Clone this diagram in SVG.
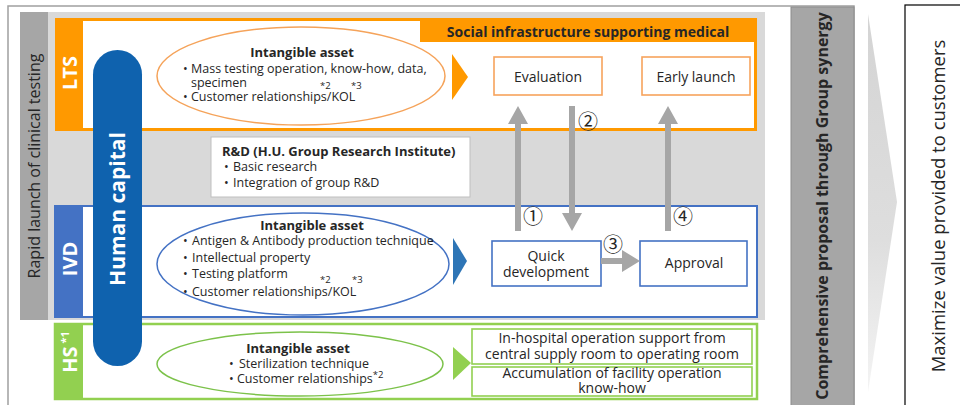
<svg xmlns="http://www.w3.org/2000/svg" width="960" height="405" viewBox="0 0 960 405">
<defs>
<style>
text{font-family:"Open Sans","Noto Sans","DejaVu Sans",sans-serif;fill:#262626}
.b{font-weight:bold}
.s12{font-size:12.5px}
.s13{font-size:13px}
.s14{font-size:14px}
.sup{font-size:9.5px}
.w{fill:#fff}
.c{text-anchor:middle}
.num{font-family:"Noto Sans CJK JP","DejaVu Sans",sans-serif;font-size:20px;text-anchor:middle;fill:#262626}
.arr{fill:#a6a6a6}
.box{fill:#fff;stroke-width:1.6}
</style>
<linearGradient id="chev" x1="0" y1="0" x2="0" y2="1">
<stop offset="0" stop-color="#d4d4d4"/>
<stop offset="0.6" stop-color="#dedede"/>
<stop offset="1" stop-color="#f4f4f4"/>
</linearGradient>
</defs>
<rect width="960" height="405" fill="#fff"/>

<g id="frame">
<rect x="8" y="6" width="846" height="410" fill="none" stroke="#a0a0a0" stroke-width="1.5"/>
<rect x="20" y="12" width="745" height="308" fill="#d9d9d9"/>
</g>

<g id="rapid">
<rect x="20" y="12" width="28" height="308" fill="#a6a6a6"/>
<text transform="translate(40,166) rotate(-90)" x="0" y="0" class="c" style="font-size:16px">Rapid launch of clinical testing</text>
</g>

<g id="lts">
<rect x="55" y="18" width="702" height="113" fill="#ff9900"/>
<rect x="83" y="21" width="671" height="107" fill="#fff"/>
<rect x="420" y="18" width="337" height="24" fill="#ff9900"/>
<text x="588" y="37" class="b s14 c">Social infrastructure supporting medical</text>
<text transform="translate(77,73) rotate(-90)" x="0" y="0" class="b w c" style="font-size:20px">LTS</text>
<ellipse cx="301" cy="76" rx="144" ry="49" fill="none" stroke="#f5a35a" stroke-width="1.5"/>
<text x="302" y="57" class="b s13 c">Intangible asset</text>
<text x="183" y="73" class="s12">•</text>
<text x="191" y="73" class="s12">Mass testing operation, know-how, data,</text>
<text x="191" y="87" class="s12">specimen</text>
<text x="320" y="89" class="sup">*2</text>
<text x="351" y="89" class="sup">*3</text>
<text x="183" y="101" class="s12">•</text>
<text x="191" y="101" class="s12">Customer relationships/KOL</text>
<polygon points="452,54 468,77 452,100" fill="#ff9900"/>
</g>

<g id="evaluation">
<rect x="494" y="57" width="108" height="38" class="box" stroke="#f7a35c"/>
<text x="548" y="82" class="s14 c">Evaluation</text>
</g>
<g id="early-launch">
<rect x="642" y="57" width="108" height="38" class="box" stroke="#f7a35c"/>
<text x="696" y="82" class="s14 c">Early launch</text>
</g>

<g id="rnd">
<rect x="211" y="137" width="259" height="60" fill="#fff" stroke="#bfbfbf"/>
<text x="222" y="156" class="b s13">R&amp;D (H.U. Group Research Institute)</text>
<text x="224" y="171" class="s12">•</text>
<text x="233" y="171" class="s12">Basic research</text>
<text x="224" y="187" class="s12">•</text>
<text x="233" y="187" class="s12">Integration of group R&amp;D</text>
</g>

<g id="ivd">
<rect x="55" y="206" width="702" height="111" fill="#fff" stroke="#4472c4" stroke-width="2"/>
<rect x="55" y="206" width="28" height="111" fill="#4472c4"/>
<text transform="translate(77,259) rotate(-90)" x="0" y="0" class="b w c" style="font-size:20px">IVD</text>
<ellipse cx="303" cy="264" rx="146" ry="51" fill="none" stroke="#4472c4" stroke-width="1.5"/>
<text x="312" y="230" class="b s13 c">Intangible asset</text>
<text x="183" y="245" class="s12">•</text>
<text x="192" y="245" class="s12">Antigen &amp; Antibody production technique</text>
<text x="183" y="262" class="s12">•</text>
<text x="192" y="262" class="s12">Intellectual property</text>
<text x="183" y="278" class="s12">•</text>
<text x="192" y="278" class="s12">Testing platform</text>
<text x="320" y="283" class="sup">*2</text>
<text x="352" y="283" class="sup">*3</text>
<text x="183" y="296" class="s12">•</text>
<text x="192" y="296" class="s12">Customer relationships/KOL</text>
<polygon points="453,238 467,261 453,285" fill="#2e75b6"/>
</g>

<g id="quick-development">
<rect x="492" y="241" width="109" height="45" class="box" stroke="#4472c4"/>
<text x="546" y="261" class="s14 c">Quick</text>
<text x="546" y="277" class="s14 c">development</text>
</g>
<g id="approval">
<rect x="640" y="241" width="107" height="45" class="box" stroke="#4472c4"/>
<text x="694" y="268" class="s14 c">Approval</text>
</g>

<g id="hs">
<rect x="55" y="324" width="702" height="75" fill="#fff" stroke="#92d050" stroke-width="2.5"/>
<rect x="55" y="324" width="28" height="75" fill="#92d050"/>
<text transform="translate(77,352) rotate(-90)" x="0" y="0" class="b w c" style="font-size:20px">HS<tspan style="font-size:11px" dy="-8"> *1</tspan></text>
<ellipse cx="300" cy="364" rx="143" ry="32" fill="none" stroke="#7cc24a" stroke-width="1.5"/>
<text x="298" y="353" class="b s13 c">Intangible asset</text>
<text x="229" y="368" class="s12">•</text>
<text x="239" y="368" class="s12">Sterilization technique</text>
<text x="229" y="383" class="s12">•</text>
<text x="237" y="383" class="s12">Customer relationships<tspan class="sup" dy="-5">*2</tspan></text>
<polygon points="453,347 471,363 453,380" fill="#92d050"/>
</g>

<g id="hs-support">
<rect x="472" y="329" width="280" height="35" class="box" stroke="#92d050"/>
<text x="612" y="343" class="s14 c">In-hospital operation support from</text>
<text x="612" y="359" class="s14 c">central supply room to operating room</text>
</g>
<g id="hs-accumulation">
<rect x="472" y="367" width="280" height="29" class="box" stroke="#92d050"/>
<text x="612" y="378" class="s14 c">Accumulation of facility operation</text>
<text x="612" y="393" class="s14 c">know-how</text>
</g>

<g id="human-capital">
<rect x="93" y="50" width="49" height="316" rx="24.5" fill="#0f62ae"/>
<text transform="translate(125,209) rotate(-90)" x="0" y="0" class="b w c" style="font-size:21px">Human capital</text>
</g>

<g id="connectors">
<polygon class="arr" points="515,231 521,231 521,124 528,124 518,106 508,124 515,124"/>
<polygon class="arr" points="569,106 575,106 575,213 582,213 572,231 562,213 569,213"/>
<polygon class="arr" points="601,258 622,258 622,250 640,261 622,272 622,264 601,264"/>
<polygon class="arr" points="665,231 671,231 671,124 678,124 668,106 658,124 665,124"/>
<text x="533" y="224" class="num">①</text>
<text x="588" y="129" class="num">②</text>
<text x="613" y="252" class="num">③</text>
<text x="683" y="224" class="num">④</text>
</g>

<g id="synergy">
<rect x="791" y="7" width="63" height="400" fill="#a6a6a6" stroke="#8c8c8c"/>
<text transform="translate(828,206) rotate(-90)" x="0" y="0" class="b c" style="font-size:16px">Comprehensive proposal through Group synergy</text>
</g>

<g id="chevron">
<polygon points="868,14 897,202 868,392" fill="url(#chev)"/>
</g>

<g id="customers">
<rect x="905" y="5" width="70" height="410" fill="#fff" stroke="#000" stroke-width="1.2"/>
<text transform="translate(945,206) rotate(-90)" x="0" y="0" class="c" style="font-size:18.5px">Maximize value provided to customers</text>
</g>
</svg>
